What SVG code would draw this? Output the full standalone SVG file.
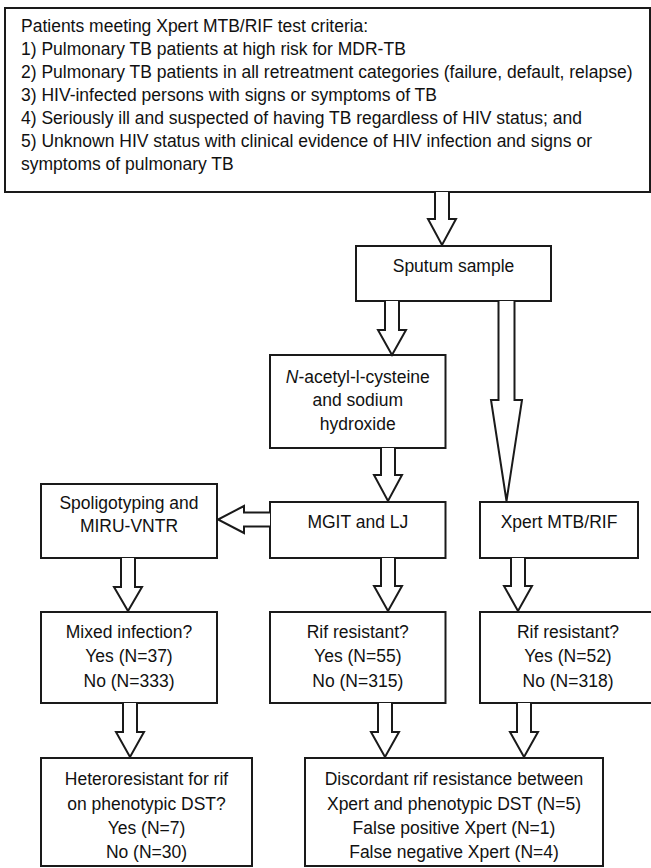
<svg xmlns="http://www.w3.org/2000/svg" width="651" height="868" viewBox="0 0 651 868">
<style>
.box{fill:#fff;stroke:#1a1a1a;stroke-width:2}
.arr{fill:#fff;stroke:#1a1a1a;stroke-width:2;stroke-linejoin:miter}
text{font-family:"Liberation Sans",Arial,sans-serif;font-size:17.5px;fill:#111}
.c{text-anchor:middle}
</style>
<rect width="651" height="868" fill="#fff"/>
<g id="criteria">
<rect class="box" x="5" y="8" width="645" height="184"/>
<text x="21" y="31.7">Patients meeting Xpert MTB/RIF test criteria:</text>
<text x="21" y="54.8">1) Pulmonary TB patients at high risk for MDR-TB</text>
<text x="21" y="77.9">2) Pulmonary TB patients in all retreatment categories (failure, default, relapse)</text>
<text x="21" y="101">3) HIV-infected persons with signs or symptoms of TB</text>
<text x="21" y="124.1">4) Seriously ill and suspected of having TB regardless of HIV status; and</text>
<text x="21" y="147.2">5) Unknown HIV status with clinical evidence of HIV infection and signs or</text>
<text x="21" y="170.3">symptoms of pulmonary TB</text>
</g>
<g id="sputum">
<rect class="box" x="356" y="246" width="195" height="55"/>
<text class="c" x="453.5" y="272">Sputum sample</text>
</g>
<g id="nac">
<rect class="box" x="270" y="355" width="175.5" height="93"/>
<text class="c" x="357.8" y="383"><tspan font-style="italic">N</tspan>-acetyl-l-cysteine</text>
<text class="c" x="357.8" y="406">and sodium</text>
<text class="c" x="357.8" y="430">hydroxide</text>
</g>
<g id="spoligo">
<rect class="box" x="41" y="484" width="176" height="74"/>
<text class="c" x="129" y="509">Spoligotyping and</text>
<text class="c" x="129" y="532">MIRU-VNTR</text>
</g>
<g id="mgit">
<rect class="box" x="270" y="502" width="175.5" height="56"/>
<text class="c" x="357.8" y="528">MGIT and LJ</text>
</g>
<g id="xpert">
<rect class="box" x="480" y="502" width="158" height="56"/>
<text class="c" x="559" y="528">Xpert MTB/RIF</text>
</g>
<g id="mixed">
<rect class="box" x="41" y="612" width="176" height="91"/>
<text class="c" x="129" y="638">Mixed infection?</text>
<text class="c" x="129" y="662">Yes (N=37)</text>
<text class="c" x="129" y="687">No (N=333)</text>
</g>
<g id="rif-culture">
<rect class="box" x="270" y="612" width="175.5" height="91"/>
<text class="c" x="357.8" y="638">Rif resistant?</text>
<text class="c" x="357.8" y="662">Yes (N=55)</text>
<text class="c" x="357.8" y="687">No (N=315)</text>
</g>
<g id="rif-xpert">
<rect class="box" x="480" y="612" width="176" height="91"/>
<text class="c" x="568" y="638">Rif resistant?</text>
<text class="c" x="568" y="662">Yes (N=52)</text>
<text class="c" x="568" y="687">No (N=318)</text>
</g>
<g id="hetero">
<rect class="box" x="41" y="758" width="211" height="108"/>
<text class="c" x="146.5" y="785">Heteroresistant for rif</text>
<text class="c" x="146.5" y="810">on phenotypic DST?</text>
<text class="c" x="146.5" y="834">Yes (N=7)</text>
<text class="c" x="146.5" y="858">No (N=30)</text>
</g>
<g id="discordant">
<rect class="box" x="305" y="758" width="298" height="108"/>
<text class="c" x="454" y="785">Discordant rif resistance between</text>
<text class="c" x="454" y="810">Xpert and phenotypic DST (N=5)</text>
<text class="c" x="454" y="834">False positive Xpert (N=1)</text>
<text class="c" x="454" y="858">False negative Xpert (N=4)</text>
</g>
<g id="connectors">
<path class="arr" d="M435,192 V219 H428 L442,245 L456,219 H449 V192"/>
<path class="arr" d="M385,301 V330 H378 L392,355 L406,330 H399 V301"/>
<path class="arr" d="M498.5,301 V400 H491 L506.5,501 L522,400 H514.5 V301"/>
<path class="arr" d="M381,448 V475 H374 L388,501 L402,475 H395 V448"/>
<path class="arr" d="M270,512.5 H244 V506 L218,519.5 L244,533 V526.5 H270"/>
<path class="arr" d="M121,558 V587 H114 L128,611 L142,587 H135 V558"/>
<path class="arr" d="M381,558 V586 H374 L388,611 L402,586 H395 V558"/>
<path class="arr" d="M511,558 V586 H504 L518,611 L532,586 H525 V558"/>
<path class="arr" d="M123,703 V732 H116 L130,757 L144,732 H137 V703"/>
<path class="arr" d="M378,703 V732 H371 L385,757 L399,732 H392 V703"/>
<path class="arr" d="M517,703 V732 H510 L524,757 L538,732 H531 V703"/>
</g>
</svg>
